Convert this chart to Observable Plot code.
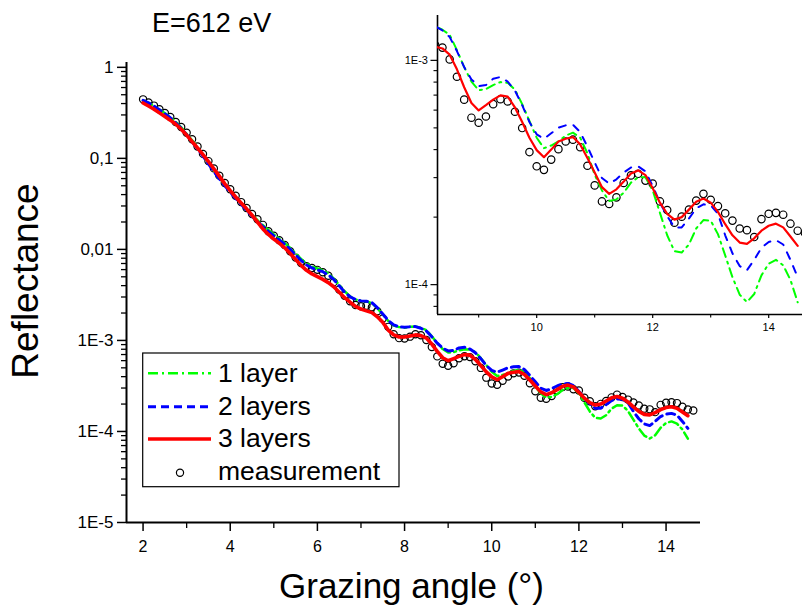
<!DOCTYPE html>
<html><head><meta charset="utf-8">
<script src="https://cdn.jsdelivr.net/npm/d3@7"></script>
<script src="https://cdn.jsdelivr.net/npm/@observablehq/plot@0.6"></script>
<style>
html,body{margin:0;padding:0;background:#fff;}
#wrap{position:relative;width:802px;height:607px;overflow:hidden;background:#fff;}
#wrap svg{position:absolute;}
</style></head><body><div id="wrap"></div>
<script>
// ---- data ----
const angles = [2, 2.125, 2.25, 2.375, 2.5, 2.625, 2.75, 2.875, 3, 3.125,
  3.25, 3.375, 3.5, 3.625, 3.75, 3.875, 4, 4.125, 4.25, 4.375,
  4.5, 4.625, 4.75, 4.875, 5, 5.125, 5.25, 5.375, 5.5, 5.625,
  5.75, 5.875, 6, 6.125, 6.25, 6.375, 6.5, 6.625, 6.75, 6.875,
  7, 7.125, 7.25, 7.375, 7.5, 7.625, 7.75, 7.875, 8, 8.125,
  8.25, 8.375, 8.5, 8.625, 8.75, 8.875, 9, 9.125, 9.25, 9.375,
  9.5, 9.625, 9.75, 9.875, 10, 10.125, 10.25, 10.375, 10.5, 10.625,
  10.75, 10.875, 11, 11.125, 11.25, 11.375, 11.5, 11.625, 11.75, 11.875,
  12, 12.125, 12.25, 12.375, 12.5, 12.625, 12.75, 12.875, 13, 13.125,
  13.25, 13.375, 13.5, 13.625, 13.75, 13.875, 14, 14.125, 14.25, 14.375,
  14.5, 14.625];

const measurement = [0.445, 0.412, 0.380, 0.347, 0.316, 0.285, 0.251, 0.221, 0.191, 0.162,
  0.135, 0.112, 0.0933, 0.0776, 0.0646, 0.0537, 0.0457, 0.0389, 0.0331, 0.0285,
  0.0245, 0.0214, 0.0186, 0.0158, 0.0141, 0.0126, 0.0112, 0.00955, 0.00813, 0.00708,
  0.00653, 0.00624, 0.00596, 0.00562, 0.00513, 0.00437, 0.00363, 0.00309, 0.00269, 0.00245,
  0.00237, 0.00240, 0.00232, 0.00209, 0.00174, 0.00141, 0.00117, 0.00106, 0.00105, 0.00110,
  0.00117, 0.00114, 0.00101, 8.45e-4, 6.68e-4, 5.55e-4, 5.27e-4, 5.62e-4, 6.38e-4, 6.71e-4,
  6.56e-4, 5.90e-4, 4.99e-4, 3.90e-4, 3.37e-4, 3.25e-4, 3.61e-4, 4.02e-4, 4.35e-4, 4.43e-4,
  4.10e-4, 3.39e-4, 2.77e-4, 2.35e-4, 2.29e-4, 2.45e-4, 2.84e-4, 3.07e-4, 3.12e-4, 2.91e-4,
  2.82e-4, 2.35e-4, 2.15e-4, 1.89e-4, 2.01e-4, 2.16e-4, 2.37e-4, 2.54e-4, 2.39e-4, 2.24e-4,
  2.08e-4, 1.93e-4, 1.78e-4, 1.75e-4, 1.63e-4, 1.96e-4, 2.07e-4, 2.09e-4, 2.05e-4, 1.87e-4,
  1.74e-4, 1.70e-4];

const layer1 = [0.434, 0.407, 0.376, 0.345, 0.313, 0.282, 0.251, 0.219, 0.186, 0.158,
  0.132, 0.110, 0.0902, 0.0741, 0.0617, 0.0519, 0.0442, 0.0376, 0.0324, 0.0279,
  0.0240, 0.0209, 0.0184, 0.0164, 0.0146, 0.0132, 0.0117, 0.0104, 0.00902, 0.00785,
  0.00700, 0.00646, 0.00617, 0.00589, 0.00543, 0.00479, 0.00407, 0.00347, 0.00305, 0.00282,
  0.00272, 0.00269, 0.00257, 0.00226, 0.00193, 0.00164, 0.00146, 0.00140, 0.00138, 0.00141,
  0.00142, 0.00137, 0.00130, 0.00111, 9.33e-4, 8.04e-4, 7.36e-4, 7.45e-4, 7.76e-4, 8.00e-4,
  7.94e-4, 7.41e-4, 6.38e-4, 5.37e-4, 4.52e-4, 4.06e-4, 4.17e-4, 4.35e-4, 4.62e-4, 4.76e-4,
  4.52e-4, 3.85e-4, 3.09e-4, 2.63e-4, 2.36e-4, 2.40e-4, 2.57e-4, 2.85e-4, 3.01e-4, 3.01e-4,
  2.63e-4, 2.09e-4, 1.66e-4, 1.41e-4, 1.39e-4, 1.51e-4, 1.78e-4, 1.94e-4, 1.93e-4, 1.68e-4,
  1.35e-4, 1.08e-4, 9.02e-5, 8.36e-5, 9.08e-5, 1.10e-4, 1.24e-4, 1.29e-4, 1.22e-4, 1.05e-4,
  8.34e-5];

const layer2 = [0.434, 0.407, 0.376, 0.343, 0.309, 0.279, 0.245, 0.214, 0.182, 0.153,
  0.127, 0.106, 0.0871, 0.0716, 0.0596, 0.0501, 0.0427, 0.0363, 0.0313, 0.0269,
  0.0232, 0.0202, 0.0178, 0.0158, 0.0141, 0.0127, 0.0114, 0.0100, 0.00871, 0.00759,
  0.00676, 0.00624, 0.00596, 0.00569, 0.00525, 0.00468, 0.00398, 0.00339, 0.00302, 0.00282,
  0.00272, 0.00269, 0.00260, 0.00229, 0.00195, 0.00166, 0.00148, 0.00141, 0.00140, 0.00141,
  0.00142, 0.00136, 0.00127, 0.00110, 9.33e-4, 8.22e-4, 7.67e-4, 7.76e-4, 8.28e-4, 8.43e-4,
  8.04e-4, 7.33e-4, 6.31e-4, 5.31e-4, 4.68e-4, 4.47e-4, 4.73e-4, 5.01e-4, 5.13e-4, 5.16e-4,
  4.79e-4, 4.12e-4, 3.51e-4, 2.99e-4, 2.82e-4, 2.95e-4, 3.16e-4, 3.33e-4, 3.37e-4, 3.20e-4,
  2.75e-4, 2.32e-4, 2.02e-4, 1.80e-4, 1.80e-4, 1.97e-4, 2.19e-4, 2.28e-4, 2.26e-4, 2.07e-4,
  1.66e-4, 1.38e-4, 1.21e-4, 1.16e-4, 1.29e-4, 1.46e-4, 1.55e-4, 1.58e-4, 1.51e-4, 1.29e-4,
  1.08e-4];

const layer3 = [0.406, 0.376, 0.347, 0.316, 0.288, 0.263, 0.237, 0.209, 0.180, 0.153,
  0.130, 0.110, 0.0923, 0.0767, 0.0638, 0.0525, 0.0442, 0.0376, 0.0324, 0.0279,
  0.0237, 0.0200, 0.0168, 0.0146, 0.0130, 0.0117, 0.0104, 0.00902, 0.00776, 0.00668,
  0.00589, 0.00537, 0.00501, 0.00468, 0.00432, 0.00389, 0.00339, 0.00295, 0.00263, 0.00237,
  0.00221, 0.00211, 0.00202, 0.00182, 0.00158, 0.00130, 0.00115, 0.00109, 0.00109, 0.00112,
  0.00115, 0.00113, 0.00106, 9.12e-4, 7.59e-4, 6.46e-4, 5.98e-4, 6.31e-4, 6.68e-4, 6.98e-4,
  6.89e-4, 6.17e-4, 5.31e-4, 4.52e-4, 3.98e-4, 3.70e-4, 4.00e-4, 4.35e-4, 4.47e-4, 4.55e-4,
  4.22e-4, 3.67e-4, 3.16e-4, 2.72e-4, 2.54e-4, 2.66e-4, 2.88e-4, 3.13e-4, 3.23e-4, 3.08e-4,
  2.69e-4, 2.32e-4, 2.07e-4, 1.95e-4, 2.00e-4, 2.16e-4, 2.34e-4, 2.42e-4, 2.32e-4, 2.11e-4,
  1.86e-4, 1.66e-4, 1.54e-4, 1.52e-4, 1.61e-4, 1.74e-4, 1.83e-4, 1.87e-4, 1.80e-4, 1.64e-4,
  1.49e-4];

const seriesNames = ["1 layer", "2 layers", "3 layers", "measurement"];
const yTicks = [1, 0.1, 0.01, 1e-3, 1e-4, 1e-5];
const yTickLabels = ["1", "0,1", "0,01", "1E-3", "1E-4", "1E-5"];
const xTicks = [2, 4, 6, 8, 10, 12, 14];
const xMinorTicks = [3, 5, 7, 9, 11, 13];
const insetYTicks = [1e-3, 1e-4];
const insetYTickLabels = ["1E-3", "1E-4"];
const insetXTicks = [10, 12, 14];
const insetXMinorTicks = [9, 11, 13];
const xDomain = [1.62, 14.79];
const yDomain = [1e-5, 1.13];
const insetXDomain = [8.29, 15.0];
const insetYDomain = [7.36e-5, 1.585e-3];

// ---- tables ----
const meas = angles.map((a, i) => ({angle: a, R: measurement[i]}));
const toRows = arr => arr.map((v, i) => ({angle: angles[i], R: v}));
const m1 = toRows(layer1), m2 = toRows(layer2), m3 = toRows(layer3);

const yMinor = [];
for (let e = -5; e <= -1; e++) for (let m = 2; m <= 9; m++) yMinor.push(+(m + "e" + e));
const insetYMinor = [8e-5, 9e-5, 2e-4, 3e-4, 4e-4, 5e-4, 6e-4, 7e-4, 8e-4, 9e-4];

const FONT = "Arial, 'Liberation Sans', sans-serif";
const GREEN = "#00ff00", BLUE = "#0000ff", RED = "#ff0000";
const wrap = document.getElementById("wrap");

// ---- main chart ----
const mainPlot = Plot.plot({
  width: 802, height: 607,
  marginTop: 62, marginRight: 102, marginBottom: 85, marginLeft: 126,
  style: {fontFamily: FONT, background: "white", color: "black"},
  x: {domain: xDomain},
  y: {type: "log", domain: yDomain},
  marks: [
    Plot.axisY(yMinor, {tickSize: 5, tickFormat: () => "", label: null, strokeWidth: 1.3}),
    Plot.axisY(yTicks, {tickSize: 9, tickPadding: 4, tickFormat: d => yTickLabels[yTicks.indexOf(d)], label: null, fontSize: 17, strokeWidth: 1.5}),
    Plot.axisX(xMinorTicks, {tickSize: 6, tickFormat: () => "", label: null, strokeWidth: 1.3}),
    Plot.axisX(xTicks, {tickSize: 9, tickPadding: 9, label: null, fontSize: 16, strokeWidth: 1.5}),
    Plot.ruleX([xDomain[0]], {strokeWidth: 2}),
    Plot.ruleY([yDomain[0]], {strokeWidth: 2}),
    Plot.dot(meas, {x: "angle", y: "R", r: 3.6, stroke: "black", strokeWidth: 1.2, fill: "none"}),
    Plot.line(m1, {x: "angle", y: "R", stroke: GREEN, strokeWidth: 2.5, strokeDasharray: "10,4,2,4"}),
    Plot.line(m2, {x: "angle", y: "R", stroke: BLUE, strokeWidth: 3, strokeDasharray: "8,5"}),
    Plot.line(m3, {x: "angle", y: "R", stroke: RED, strokeWidth: 3.6})
  ]
});
mainPlot.style.left = "0px"; mainPlot.style.top = "0px";
wrap.appendChild(mainPlot);

// ---- inset ----
const insetPlot = Plot.plot({
  width: 430, height: 329,
  marginTop: 5, marginRight: 0.8, marginBottom: 25, marginLeft: 40,
  style: {fontFamily: FONT, background: "transparent", color: "black"},
  x: {domain: insetXDomain},
  y: {type: "log", domain: insetYDomain},
  marks: [
    Plot.axisY(insetYMinor, {tickSize: 3.5, tickFormat: () => "", label: null, strokeWidth: 1.1}),
    Plot.axisY(insetYTicks, {tickSize: 6.5, tickPadding: 3, tickFormat: d => insetYTickLabels[insetYTicks.indexOf(d)], label: null, fontSize: 11, strokeWidth: 1.2}),
    Plot.axisX(insetXMinorTicks, {tickSize: 3.5, tickFormat: () => "", label: null, strokeWidth: 1.1}),
    Plot.axisX(insetXTicks, {tickSize: 4, tickPadding: 5, label: null, fontSize: 11, strokeWidth: 1.2}),
    Plot.ruleX([insetXDomain[0]], {strokeWidth: 1.6}),
    Plot.ruleY([insetYDomain[0]], {strokeWidth: 1.6}),
    Plot.dot(meas, {x: "angle", y: "R", r: 3.7, stroke: "black", strokeWidth: 1.2, fill: "none", clip: true}),
    Plot.line(m1, {x: "angle", y: "R", stroke: GREEN, strokeWidth: 2, strokeDasharray: "9,5,2,5", clip: true}),
    Plot.line(m2, {x: "angle", y: "R", stroke: BLUE, strokeWidth: 2, strokeDasharray: "7,8", clip: true}),
    Plot.line(m3, {x: "angle", y: "R", stroke: RED, strokeWidth: 2.2, clip: true})
  ]
});
insetPlot.style.left = "396.7px"; insetPlot.style.top = "10px";
wrap.appendChild(insetPlot);

// ---- texts & legend ----
const ov = d3.create("svg").attr("width", 802).attr("height", 607)
  .style("left", "0px").style("top", "0px").style("font-family", FONT);
ov.append("text").attr("x", 152).attr("y", 32).attr("font-size", 27).text("E=612 eV");
ov.append("text").attr("transform", "translate(38,281) rotate(-90)")
  .attr("text-anchor", "middle").attr("font-size", 37).text("Reflectance");
ov.append("text").attr("x", 411.5).attr("y", 598).attr("text-anchor", "middle")
  .attr("font-size", 35).text("Grazing angle (°)");

const lg = ov.append("g");
lg.append("rect").attr("x", 142.7).attr("y", 353).attr("width", 256.3).attr("height", 133.7)
  .attr("fill", "white").attr("stroke", "black").attr("stroke-width", 1.2);
const sampleY = [373.3, 406.7, 439];
const sampleStyle = [
  {stroke: GREEN, w: 2.5, dash: "10,4,2,4"},
  {stroke: BLUE, w: 3, dash: "8,5"},
  {stroke: RED, w: 3.6, dash: null}
];
sampleStyle.forEach((s, i) => {
  const l = lg.append("line").attr("x1", 148).attr("x2", 211).attr("y1", sampleY[i]).attr("y2", sampleY[i])
    .attr("stroke", s.stroke).attr("stroke-width", s.w);
  if (s.dash) l.attr("stroke-dasharray", s.dash);
});
lg.append("circle").attr("cx", 180).attr("cy", 472.7).attr("r", 3.6)
  .attr("fill", "none").attr("stroke", "black").attr("stroke-width", 1.2);
const textY = [382, 414.5, 447, 480];
seriesNames.forEach((n, i) => {
  lg.append("text").attr("x", 218).attr("y", textY[i]).attr("font-size", 26.5).text(n);
});
wrap.appendChild(ov.node());
</script></body></html>
